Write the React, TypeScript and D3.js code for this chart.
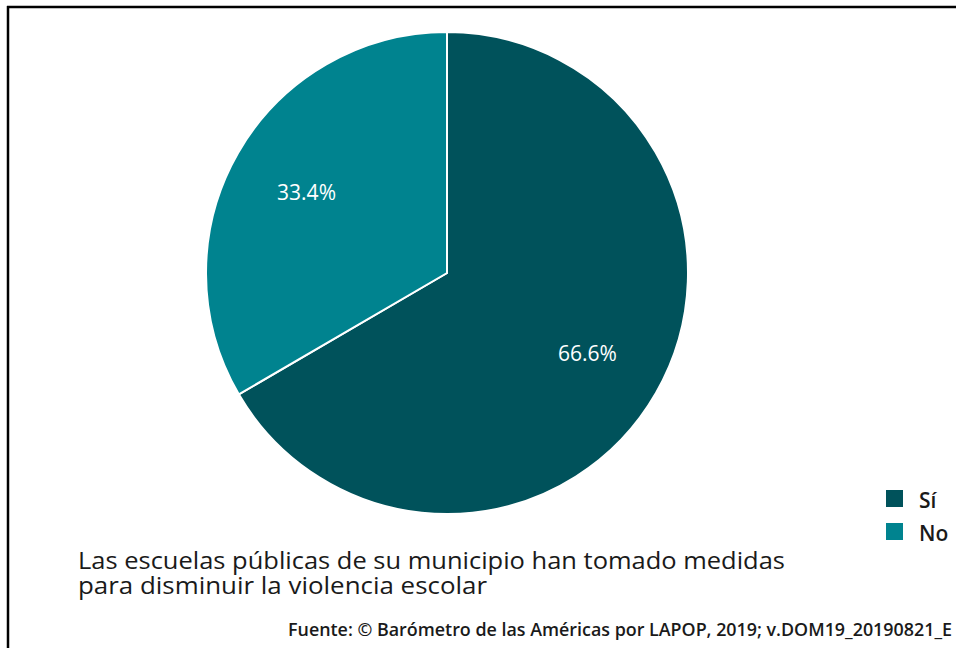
import React from "react";
import * as d3 from "d3";

const categories = ["Sí", "No"];
const values = [66.6, 33.4];
const colors = ["#00525b", "#00838f"];
const titleLines = [
  "Las escuelas públicas de su municipio han tomado medidas",
  "para disminuir la violencia escolar",
];
const titleWidths = [707, 409];
const sourceText = "Fuente: © Barómetro de las Américas por LAPOP, 2019; v.DOM19_20190821_E";

export default function App() {
  const W = 956, H = 648;
  const cx = 447, cy = 273, r = 241;
  const data = categories.map((c, i) => ({ c, v: values[i], color: colors[i] }));
  const pie = d3.pie<any>().value((d) => d.v).sort(null);
  const arcs = pie(data);
  const arc = d3.arc<any>().innerRadius(0).outerRadius(r);
  const labelArc = d3.arc<any>().innerRadius(162).outerRadius(162);
  const font = "'Open Sans', sans-serif";
  return (
    <svg width={W} height={H} style={{ position: "absolute", left: 0, top: 0, background: "#fff" }}>
      <rect x={0} y={0} width={W} height={H} fill="#fff" />
      <line x1={7} y1={7} x2={W} y2={7} stroke="#000" strokeWidth={2.5} />
      <line x1={8} y1={6} x2={8} y2={H} stroke="#000" strokeWidth={2.5} />
      <g transform={`translate(${cx},${cy})`}>
        {arcs.map((a, i) => (
          <path key={i} d={arc(a) as string} fill={a.data.color} stroke="#fff" strokeWidth={2} />
        ))}
        {arcs.map((a, i) => {
          const [x, y] = labelArc.centroid(a);
          return (
            <text key={"l" + i} x={x} y={y} dy="0.36em" textAnchor="middle" fill="#fff"
              fontFamily={font} fontSize={21} fontWeight={500}>
              {a.data.v.toFixed(1)}%
            </text>
          );
        })}
      </g>
      {data.map((d, i) => (
        <g key={"lg" + i} transform={`translate(886,${490 + i * 33})`}>
          <rect width={17} height={17} fill={d.color} />
          <text x={33} y={18} fontFamily={font} fontSize={21} fontWeight={600} fill="#1a1a1a">
            {d.c}
          </text>
        </g>
      ))}
      {titleLines.map((t, i) => (
        <text key={"t" + i} x={78} y={569 + i * 25} fontFamily={font} fontSize={23} fontWeight={500}
          fill="#1a1a1a" textLength={titleWidths[i]} lengthAdjust="spacingAndGlyphs">
          {t}
        </text>
      ))}
      <text x={288} y={636} fontFamily={font} fontSize={18} fontWeight={600} fill="#1a1a1a"
        textLength={664} lengthAdjust="spacingAndGlyphs">
        {sourceText}
      </text>
    </svg>
  );
}
